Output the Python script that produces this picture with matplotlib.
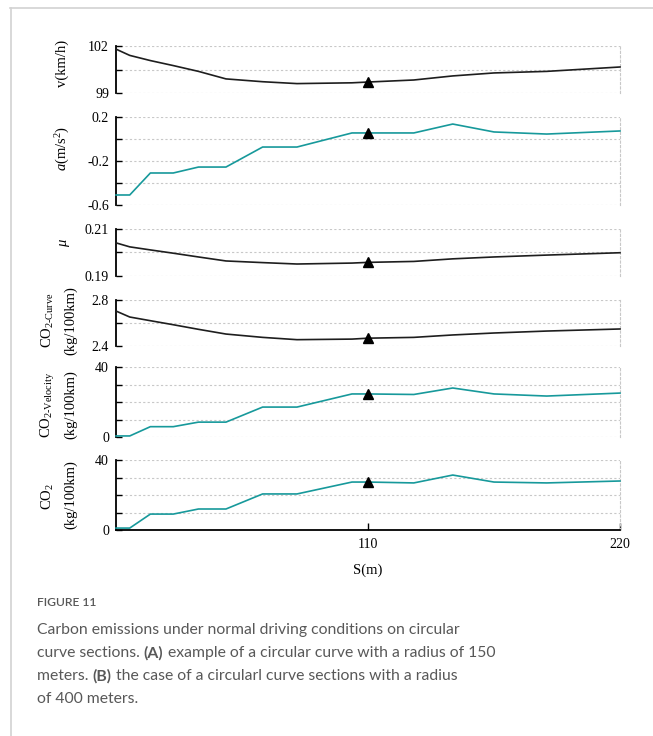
import matplotlib
matplotlib.use("Agg")
import matplotlib.pyplot as plt
from matplotlib.lines import Line2D

plt.rcParams["font.family"] = ["Liberation Serif", "DejaVu Serif"]
plt.rcParams["mathtext.fontset"] = "custom"
plt.rcParams["mathtext.rm"] = "Liberation Serif"
plt.rcParams["mathtext.it"] = "Liberation Serif:italic"

# distance along the section (m)
s = [0, 6, 15, 25, 36, 48, 64, 79, 103, 110, 130, 147, 165, 188, 220]
mark_s = 110

speed = [101.8, 101.4, 101.07, 100.75, 100.38, 99.9, 99.72, 99.6, 99.65, 99.7,
         99.83, 100.09, 100.28, 100.38, 100.66]
accel = [-0.509, -0.509, -0.309, -0.309, -0.255, -0.255, -0.073, -0.073, 0.055, 0.055,
         0.055, 0.136, 0.064, 0.045, 0.073]
mu = [0.2041, 0.2024, 0.2011, 0.1997, 0.1981, 0.1964, 0.1957, 0.1951, 0.1955, 0.1958,
      0.1962, 0.1973, 0.1981, 0.1989, 0.1999]
co2_curve = [2.704, 2.652, 2.62, 2.585, 2.545, 2.504, 2.475, 2.455, 2.46, 2.468,
             2.475, 2.496, 2.513, 2.53, 2.548]
co2_velocity = [0.6, 0.6, 5.9, 5.9, 8.5, 8.5, 17.1, 17.1, 24.6, 24.6,
                24.3, 28.0, 24.6, 23.4, 25.1]
co2_total = [1.1, 1.1, 9.1, 9.1, 12.0, 12.0, 20.6, 20.6, 27.4, 27.4,
             26.9, 31.4, 27.4, 26.9, 28.0]

BLACK = "#1e1e1e"
TEAL = "#17999b"
GRID = "#c8c8c8"

# (values, colour, ylim, gridline ticks, tick labels, axes box in px: top, bottom)
panels = [
    (speed, BLACK, (99, 102), [99, 100.5, 102], ["99", "", "102"], 46, 93),
    (accel, TEAL, (-0.6, 0.2), [-0.6, -0.4, -0.2, 0.0, 0.2], ["-0.6", "", "-0.2", "", "0.2"], 117, 205),
    (mu, BLACK, (0.19, 0.21), [0.19, 0.20, 0.21], ["0.19", "", "0.21"], 229, 276),
    (co2_curve, BLACK, (2.4, 2.8), [2.4, 2.6, 2.8], ["2.4", "", "2.8"], 300, 346),
    (co2_velocity, TEAL, (0, 40), [0, 10, 20, 30, 40], ["0", "", "", "", "40"], 367, 437),
    (co2_total, TEAL, (0, 40), [0, 10, 20, 30, 40], ["0", "", "", "", "40"], 460, 530),
]

# y labels: list of (text, x_px, y_px)
ylabels = [
    [("v(km/h)", 62, 63)],
    [(r"$a$(m/s$^2$)", 63, 148)],
    [(r"$\mu$", 65, 243)],
    [(r"CO$_{\text{2-Curve}}$", 48, 320), ("(kg/100km)", 71, 321)],
    [(r"CO$_{\text{2-Velocity}}$", 48, 405), ("(kg/100km)", 71, 405)],
    [(r"CO$_{2}$", 48, 497), ("(kg/100km)", 71, 495)],
]

W, H = 653, 736
fig = plt.figure(figsize=(W / 100, H / 100), dpi=100)

x0, x1 = 116, 620
for i, (vals, col, ylim, ticks, tlabels, top, bot) in enumerate(panels):
    ax = fig.add_axes([x0 / W, 1 - bot / H, (x1 - x0) / W, (bot - top) / H])
    ax.plot(s, vals, color=col, lw=1.2, clip_on=False, zorder=3)
    k = s.index(mark_s)
    ax.plot(s[k], vals[k], marker="^", color="black", ms=7, ls="none", zorder=4, clip_on=False)
    ax.set_xlim(0, 220)
    ax.set_ylim(*ylim)
    ax.set_yticks(ticks)
    ax.set_yticklabels(tlabels)
    ax.yaxis.grid(True, ls=(0, (2, 2)), color=GRID, lw=0.8)
    ax.set_axisbelow(True)
    ax.tick_params(axis="y", direction="in", length=4, width=1, pad=5, labelsize=10, color="black")
    ax.spines["left"].set_linewidth(1.3)
    ax.spines["left"].set_color("black")
    ax.spines["top"].set_visible(False)
    ax.spines["right"].set_linestyle((0, (2, 2)))
    ax.spines["right"].set_color(GRID)
    ax.spines["right"].set_linewidth(0.8)
    if i == len(panels) - 1:
        ax.set_xticks([110, 220])
        ax.tick_params(axis="x", direction="in", length=5, width=1, pad=6, labelsize=10)
        ax.spines["bottom"].set_linewidth(1.3)
        ax.spines["bottom"].set_color("black")
        ax.set_xlabel("S(m)", fontsize=10.5, labelpad=9)
    else:
        ax.set_xticks([])
        ax.spines["bottom"].set_visible(False)
    for txt, xp, yp in ylabels[i]:
        fig.text(xp / W, 1 - yp / H, txt, rotation=90, ha="center", va="center", fontsize=10.5)

# page frame (light grey lines at top and left)
fig.add_artist(Line2D([10 / W, 1], [1 - 7.5 / H, 1 - 7.5 / H], color="#d2d2d2", lw=1.2))
fig.add_artist(Line2D([11 / W, 11 / W], [0, 1 - 7.5 / H], color="#d2d2d2", lw=1.2))

# caption
cap_font = ["Lato", "DejaVu Sans"]
cap_col = "#585858"
fig.text(37 / W, 1 - 603 / H, "FIGURE 11", fontsize=8.7, color=cap_col, family=cap_font,
         fontweight="semibold", va="center")

renderer = fig.canvas.get_renderer()


def draw_runs(x_px, y_px, runs):
    x = x_px / W
    for txt, weight in runs:
        t = fig.text(x, 1 - y_px / H, txt, fontsize=11.3, color=cap_col, family=cap_font,
                     fontweight=weight, va="center")
        x += t.get_window_extent(renderer=renderer).width / fig.bbox.width


caption = [
    [("Carbon emissions under normal driving conditions on circular", "normal")],
    [("curve sections. ", "normal"), ("(A)", "bold"),
     (" example of a circular curve with a radius of 150", "normal")],
    [("meters. ", "normal"), ("(B)", "bold"),
     (" the case of a circularl curve sections with a radius", "normal")],
    [("of 400 meters.", "normal")],
]
for j, runs in enumerate(caption):
    draw_runs(37, 630 + 23 * j, runs)

fig.savefig("out.png", dpi=100)
